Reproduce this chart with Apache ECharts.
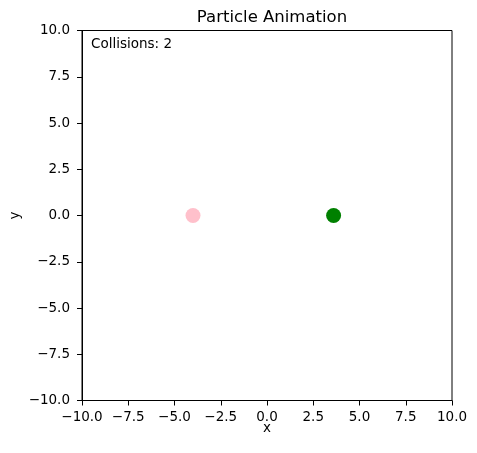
<!DOCTYPE html>
<html>
<head>
<meta charset="utf-8">
<script src="https://cdn.jsdelivr.net/npm/echarts@6/dist/echarts.min.js"></script>
<style>
	html,body{margin:0;padding:0;background:#fff;}
	#chart{width:477px;height:453px;}
</style>
</head>
<body>
<div id="chart"></div>
<script>
// particle positions
var particleNames = ['p1', 'p2'];
var particleX = [-4.0, 3.6];
var particleY = [0.0, 0.0];
var particleColors = ['pink', 'green'];
var collisionCount = 2;

var axisTicks = [-10, -7.5, -5, -2.5, 0, 2.5, 5, 7.5, 10];

var FONT = 'DejaVu Sans';

function fmtTick(v){
	var s = v.toFixed(1);
	return s.replace('-', '\u2212');
}

function axisCommon(name){
	return {
		type: 'value',
		min: axisTicks[0],
		max: axisTicks[axisTicks.length-1],
		interval: 2.5,
		name: name,
		nameLocation: 'middle',
		nameMoveOverlap: false,
		nameTextStyle: {color: '#000', fontFamily: FONT, fontSize: 13.5},
		axisLine: {show: true, onZero: false, lineStyle: {color: '#000', width: 1}},
		axisTick: {show: true, inside: false, length: 5, lineStyle: {color: '#000', width: 1}},
		axisLabel: {color: '#000', fontFamily: FONT, fontSize: 13.5, margin: 6, formatter: fmtTick},
		splitLine: {show: false}
	};
}

var xAxis = axisCommon('x');
xAxis.nameGap = 21;
xAxis.axisLabel.margin = 10;
var yAxis = axisCommon('y');
yAxis.nameGap = 60;
yAxis.axisLabel.margin = 12;

var seriesList = particleNames.map(function(n, i){
	return {
		name: n,
		type: 'scatter',
		symbolSize: 15,
		itemStyle: {color: particleColors[i], opacity: 1},
		data: [[particleX[i], particleY[i]]],
		silent: true
	};
});

var chart = echarts.init(document.getElementById('chart'), null, {renderer: 'canvas'});
chart.setOption({
	animation: false,
	backgroundColor: '#fff',
	title: {
		text: 'Particle Animation',
		left: 267,
		top: 4,
		textAlign: 'center',
		textStyle: {color: '#000', fontFamily: FONT, fontSize: 16.5, fontWeight: 'normal'}
	},
	grid: {left: 82, top: 30.5, width: 370, height: 370, containLabel: false,
		outerBoundsMode: 'none',
		show: true, borderColor: '#000', borderWidth: 1, backgroundColor: 'transparent'},
	xAxis: xAxis,
	yAxis: yAxis,
	graphic: [{
		type: 'text',
		left: 91,
		top: 37,
		style: {text: 'Collisions: ' + collisionCount, fill: '#000', font: '13.5px "DejaVu Sans"'}
	}],
	series: seriesList
});
</script>
</body>
</html>
